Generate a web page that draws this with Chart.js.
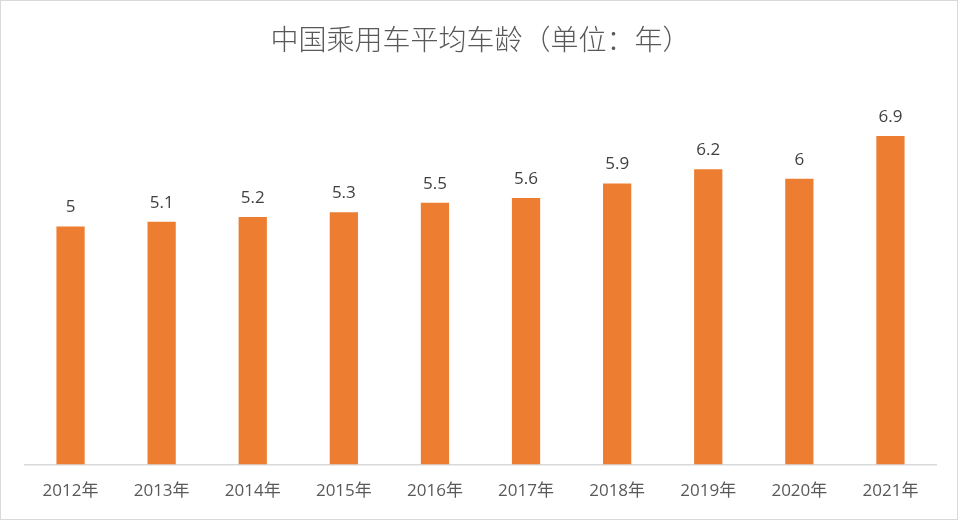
<!DOCTYPE html>
<html>
<head>
<meta charset="utf-8">
<script src="https://cdn.jsdelivr.net/npm/chart.js@4"></script>
<style>
    html, body { margin: 0; padding: 0; background: #fff; }
    #wrap { width: 956px; height: 518px; border: 1px solid #d9d9d9; }
</style>
</head>
<body>
<div id="wrap"><canvas id="myChart" width="956" height="518"></canvas></div>
<script>
const years = ["2012年", "2013年", "2014年", "2015年", "2016年", "2017年", "2018年", "2019年", "2020年", "2021年"];
const avgAge = [5, 5.1, 5.2, 5.3, 5.5, 5.6, 5.9, 6.2, 6, 6.9];

const FONT = '"Open Sans", "Noto Sans CJK SC", sans-serif';
const CJK = '"Noto Sans CJK SC", sans-serif';

// values drawn above each bar
const barValues = {
    id: "barValues",
    afterDatasetsDraw(chart) {
        const ctx = chart.ctx;
        const meta = chart.getDatasetMeta(0);
        ctx.save();
        ctx.font = "17px " + FONT;
        ctx.fillStyle = "#404040";
        ctx.textAlign = "center";
        ctx.textBaseline = "middle";
        meta.data.forEach((bar, i) => {
            ctx.fillText(String(avgAge[i]), bar.x, bar.y - 19);
        });
        ctx.restore();
    },
};

const ctx = document.getElementById("myChart").getContext("2d");
let myChart = new Chart(ctx, {
    type: "bar",
    data: {
        labels: years,
        datasets: [
            {
                label: "平均车龄",
                data: avgAge,
                backgroundColor: "#ED7D31",
                borderWidth: 0,
                categoryPercentage: 1,
                barPercentage: 0.31,
            },
        ],
    },
    options: {
        responsive: false,
        animation: false,
        plugins: {
            legend: {
                display: false
            },
            tooltip: {
                enabled: false
            },
            title: {
                display: true,
                text: "中国乘用车平均车龄（单位：年）",
                color: "#595959",
                font: { family: CJK, size: 28, weight: "300" },
                padding: { top: 22, bottom: 27 },
            },
        },
        scales: {
            x: {
                grid: { display: false, drawTicks: false },
                border: { display: true, color: "#d9d9d9", width: 1.5 },
                ticks: {
                    color: "#595959",
                    font: { family: FONT, size: 17 },
                    padding: 16,
                },
            },
            y: {
                display: false,
                min: 0,
                max: 8,
            },
        },
        layout: {
            padding: {
                top: 0,
                right: 21,
                bottom: 2,
                left: 24
            }
        },
    },
    plugins: [barValues],
});
</script>
</body>
</html>
